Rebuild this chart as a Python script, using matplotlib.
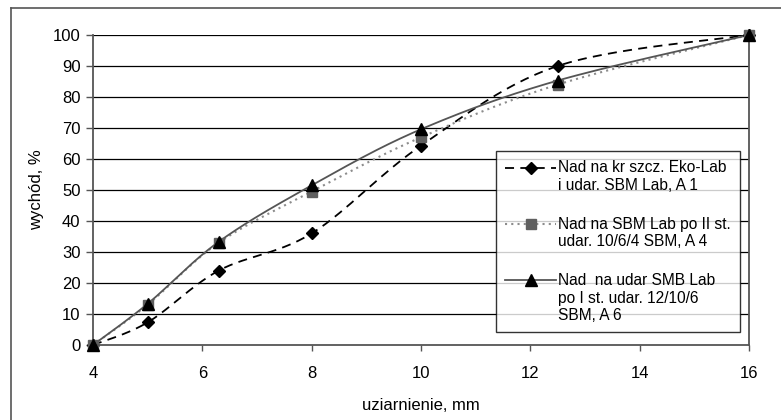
import numpy as np
import matplotlib
matplotlib.use("Agg")
import matplotlib.pyplot as plt
from matplotlib.lines import Line2D

plt.rcParams['font.family'] = ['Liberation Sans', 'DejaVu Sans']

x_vals = [4, 5, 6.3, 8, 10, 12.5, 16]
a1 = [0, 7.3, 24, 36, 64.3, 90, 100]
a4 = [0, 13, 33, 49.5, 67, 84, 100]
a6 = [0, 13.3, 33.3, 51.5, 69.6, 85.3, 100]

labels = ["Nad na kr szcz. Eko-Lab\ni udar. SBM Lab, A 1",
          "Nad na SBM Lab po II st.\nudar. 10/6/4 SBM, A 4",
          "Nad  na udar SMB Lab\npo I st. udar. 12/10/6\nSBM, A 6"]
x_ticks = [4, 6, 8, 10, 12, 14, 16]
y_ticks = list(range(0, 101, 10))
xlabel = "uziarnienie, mm"
ylabel = "wychód, %"

XMIN, XMAX, YMIN, YMAX = 4, 16, 0, 100
FS = 12
LFS = 11.2


def smooth(xs, ys, n=30):
    # Excel-like smoothed line: cubic Bezier with Catmull-Rom control points,
    # computed in normalized axes units
    xw = XMAX - XMIN
    yw = (YMAX - YMIN) * (656 / 310)
    P = np.column_stack([(np.asarray(xs) - XMIN) / xw, (np.asarray(ys) - YMIN) / yw])
    out = []
    m = len(P)
    for i in range(m - 1):
        p0 = P[i - 1] if i > 0 else P[i]
        p1 = P[i]
        p2 = P[i + 1]
        p3 = P[i + 2] if i + 2 < m else P[i + 1]
        c1 = p1 + (p2 - p0) / 6
        c2 = p2 - (p3 - p1) / 6
        t = np.linspace(0, 1, n)[:, None]
        seg = ((1 - t) ** 3) * p1 + 3 * ((1 - t) ** 2) * t * c1 + 3 * (1 - t) * t ** 2 * c2 + t ** 3 * p2
        if i > 0:
            seg = seg[1:]
        out.append(seg)
    Q = np.vstack(out)
    return Q[:, 0] * xw + XMIN, Q[:, 1] * yw + YMIN


fig = plt.figure(figsize=(7.81, 4.2), dpi=100)
ax = fig.add_axes([93 / 781, 75 / 420, 656 / 781, 310 / 420])

# outer frame (top and left visible)
fig.add_artist(Line2D([11 / 781, 1.0], [1 - 8 / 420, 1 - 8 / 420], color='#555555', lw=1.2))
fig.add_artist(Line2D([11 / 781, 11 / 781], [0, 1 - 8 / 420], color='#555555', lw=1.2))

for yv in y_ticks[1:]:
    ax.axhline(yv, color='black', lw=0.9, zorder=1)

sx, sy = smooth(x_vals, a1)
ax.plot(sx, sy, color='black', lw=1.3, ls=(0, (5, 3.5)), zorder=3)
ax.plot(x_vals, a1, ls='none', marker='D', ms=6, color='black', zorder=4, clip_on=False)

sx, sy = smooth(x_vals, a4)
ax.plot(sx, sy, color='#8c8c8c', lw=1.5, ls=(0, (1, 2)), zorder=3)
ax.plot(x_vals, a4, ls='none', marker='s', ms=7, color='#5f5f5f', zorder=4, clip_on=False)

sx, sy = smooth(x_vals, a6)
ax.plot(sx, sy, color='#555555', lw=1.3, ls='-', zorder=3)
ax.plot(x_vals, a6, ls='none', marker='^', ms=8.5, color='black', zorder=7, clip_on=False)

ax.set_xlim(XMIN, XMAX)
ax.set_ylim(YMIN, YMAX)
ax.set_xticks(x_ticks)
ax.set_yticks(y_ticks)
ax.tick_params(axis='both', labelsize=FS, color='#555555', direction='out', width=1)
ax.tick_params(axis='x', pad=11, length=4)
ax.tick_params(axis='y', pad=4, length=5)
ax.spines['top'].set_visible(False)
for s in ['left', 'bottom', 'right']:
    ax.spines[s].set_color('#555555')
    ax.spines[s].set_linewidth(1.3)
    ax.spines[s].set_zorder(6)

ax.set_xlabel(xlabel, fontsize=FS, labelpad=12)
ax.set_ylabel(ylabel, fontsize=FS, labelpad=6)

handles = [
    Line2D([], [], color='black', lw=1.3, ls=(0, (5, 3.5)), marker='D', ms=6),
    Line2D([], [], color='#8c8c8c', lw=1.5, ls=(0, (1, 2)), marker='s', ms=7,
           markerfacecolor='#5f5f5f', markeredgecolor='#5f5f5f'),
    Line2D([], [], color='#555555', lw=1.3, marker='^', ms=8.5,
           markerfacecolor='black', markeredgecolor='black'),
]
leg = ax.legend(handles, labels, loc='upper left', bbox_to_anchor=(0.614, 0.626),
                fontsize=LFS, frameon=True, fancybox=False, shadow=False,
                handlelength=3.3, handletextpad=0.1, labelspacing=1.55,
                borderpad=0.6, borderaxespad=0, numpoints=1)
leg.get_frame().set_edgecolor('black')
leg.get_frame().set_linewidth(1.0)
leg.set_zorder(10)
# align each legend key with the first line of its label
pitch = 1.2 * LFS
for h, lab in zip(leg.legend_handles, labels):
    nlines = lab.count("\n") + 1
    h.set_ydata(np.asarray(h.get_ydata()) + (nlines - 1) * pitch / 2)

fig.savefig('out.png', dpi=100)
